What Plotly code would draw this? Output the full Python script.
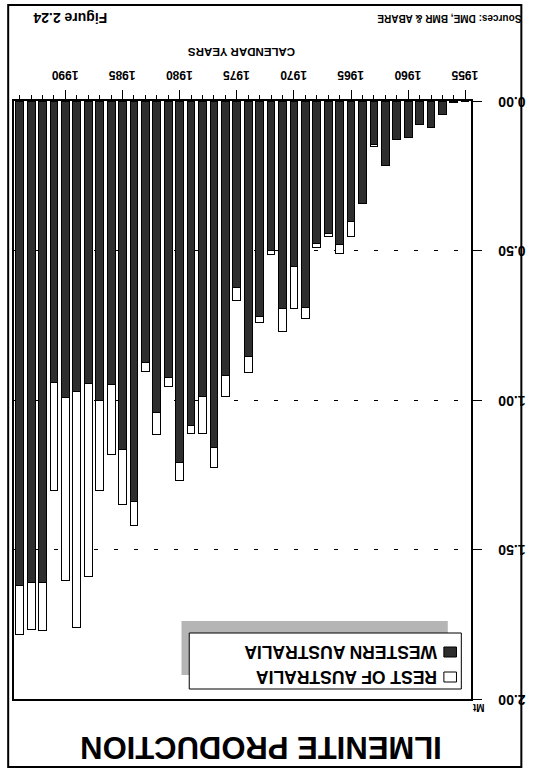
import plotly.graph_objects as go

# ---- data (read from the scanned, upside-down figure) ----
years = list(range(1955, 1995))
western_australia = [0.0, 0.004, 0.044, 0.088, 0.077, 0.121, 0.130, 0.217, 0.147, 0.344,
                     0.403, 0.481, 0.442, 0.475, 0.691, 0.553, 0.695, 0.500, 0.720, 0.856,
                     0.625, 0.918, 1.160, 0.987, 1.085, 1.208, 0.926, 1.043, 0.874, 1.338,
                     1.165, 0.948, 1.000, 0.945, 0.971, 0.993, 0.943, 1.610, 1.610, 1.622]
rest_of_australia = [0.0, 0.0, 0.0, 0.0, 0.0, 0.0, 0.0, 0.0, 0.004, 0.0,
                     0.050, 0.028, 0.011, 0.015, 0.038, 0.141, 0.075, 0.014, 0.022, 0.053,
                     0.042, 0.069, 0.067, 0.125, 0.027, 0.060, 0.030, 0.072, 0.030, 0.083,
                     0.184, 0.234, 0.304, 0.645, 0.790, 0.609, 0.361, 0.161, 0.156, 0.161]
series_names = ["WESTERN AUSTRALIA", "REST OF AUSTRALIA"]
title_text = "ILMENITE PRODUCTION"
x_title = "CALENDAR YEARS"
y_unit = "Mt"
source_text = "Sources: DME, BMR & ABARE"
figure_label = "Figure 2.24"

FONT = "Liberation Sans"
DARK = "#2e2e2e"

# plot area in pixels: x 12..484, y 101..699
L, R, T, B = 12, 484, 101, 699
def px_x(p):
    return (p - L) / (R - L)
def px_y(p):
    return (B - p) / (B - T)

fig = go.Figure()
fig.add_trace(go.Bar(x=years, y=western_australia, name=series_names[0], width=0.68,
                     marker=dict(color=DARK, line=dict(color="black", width=1)),
                     showlegend=False))
fig.add_trace(go.Bar(x=years, y=rest_of_australia, name=series_names[1], width=0.68,
                     marker=dict(color="white", line=dict(color="black", width=1)),
                     showlegend=False))

fig.update_layout(
    width=538, height=770,
    margin=dict(l=L, r=538 - R, t=T, b=770 - B),
    barmode="stack",
    paper_bgcolor="white", plot_bgcolor="white",
    font=dict(family=FONT, color="black"),
    xaxis=dict(range=[1994.5, 1954.5], side="top", showline=True, mirror=True,
               linecolor="black", linewidth=1.5, ticks="outside", ticklen=9,
               tickwidth=1, tickcolor="black", tick0=1955, dtick=5, tickangle=180,
               ticklabelshift=-13, ticklabelstandoff=2,
               tickfont=dict(size=12, family=FONT, weight="bold"),
               minor=dict(dtick=1, tick0=1955, ticks="outside", ticklen=4,
                          tickcolor="black", tickwidth=1, showgrid=False),
               showgrid=False, zeroline=False),
    yaxis=dict(range=[2.0, 0.0], side="right", showline=True, mirror=True,
               linecolor="black", linewidth=1.5, ticks="outside", ticklen=9,
               tickwidth=1, tickcolor="black", dtick=0.5, tickformat=".2f",
               tickangle=180, ticklabelstandoff=41, ticklabelshift=-5,
               tickfont=dict(size=14, family=FONT, weight="bold"),
               showgrid=True, gridcolor="black", gridwidth=1, griddash="4px,16px",
               zeroline=False),
)

shapes = []
# outer frame
shapes.append(dict(type="rect", xref="paper", yref="paper",
                   x0=px_x(6), x1=px_x(536), y0=px_y(5), y1=px_y(767),
                   line=dict(color="black", width=2), fillcolor="rgba(0,0,0,0)"))
# legend shadow and box
shapes.append(dict(type="rect", xref="paper", yref="paper",
                   x0=px_x(185), x1=px_x(460), y0=px_y(621), y1=px_y(675),
                   line=dict(width=0), fillcolor="#b5b5b5", layer="above"))
shapes.append(dict(type="rect", xref="paper", yref="paper",
                   x0=px_x(193), x1=px_x(474), y0=px_y(633), y1=px_y(689),
                   line=dict(color="black", width=1), fillcolor="white", layer="above"))
# legend swatches
shapes.append(dict(type="rect", xref="paper", yref="paper",
                   x0=px_x(456), x1=px_x(469), y0=px_y(647), y1=px_y(657),
                   line=dict(color="black", width=1), fillcolor=DARK, layer="above"))
shapes.append(dict(type="rect", xref="paper", yref="paper",
                   x0=px_x(456), x1=px_x(469), y0=px_y(672), y1=px_y(682),
                   line=dict(color="black", width=1), fillcolor="white", layer="above"))
fig.update_layout(shapes=shapes)

def ann(text, x, y, size, xanchor="center"):
    fig.add_annotation(text="<b>%s</b>" % text, xref="paper", yref="paper",
                       x=px_x(x), y=px_y(y), xanchor=xanchor, yanchor="middle",
                       showarrow=False, textangle=180,
                       font=dict(family=FONT, size=size, color="black"))

ann(title_text, 267, 748, 31)
ann(y_unit, 492, 708, 10)
ann(x_title, 247, 52, 11.5)
ann(source_text, 462, 18, 10)
ann(figure_label, 70, 18, 14)
ann(series_names[0], 451, 652, 17.5, xanchor="right")
ann(series_names[1], 451, 677, 17.5, xanchor="right")

fig.write_html("out.html", config={"displayModeBar": False},
               post_script="document.body.style.margin='0px';")
